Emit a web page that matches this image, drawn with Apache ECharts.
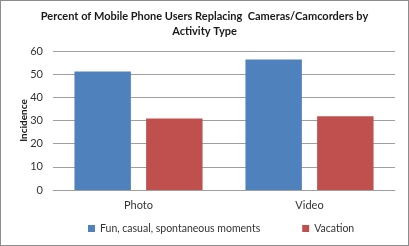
<!DOCTYPE html>
<html><head><meta charset="utf-8">
<script src="https://cdn.jsdelivr.net/npm/echarts@6/dist/echarts.min.js"></script>
<style>html,body{margin:0;padding:0;background:#fff}#c{width:409px;height:246px;box-sizing:border-box;border:1px solid #8c8c8c}</style>
</head><body><div id="c"></div>
<script>
const categories = ['Photo', 'Video'];
const seriesNames = ['Fun, casual, spontaneous moments', 'Vacation'];
const funValues = [51.1, 56.3];
const vacationValues = [30.9, 31.8];
const yTicks = [0, 10, 20, 30, 40, 50, 60];

const chart = echarts.init(document.getElementById('c'));
const font = 'Lato';
chart.setOption({
  animation: false,
  title: {
    text: 'Percent of Mobile Phone Users Replacing  Cameras/Camcorders by\nActivity Type',
    left: 'center', top: 3,
    textStyle: {fontFamily: font, fontWeight: 'bold', fontSize: 11, color: '#1a1a1a', lineHeight: 15}
  },
  legend: {
    bottom: 6, left: 82, itemWidth: 7, itemHeight: 7, itemGap: 42,
    icon: 'rect',
    textStyle: {fontFamily: font, fontSize: 10.5, color: '#333'},
    data: seriesNames
  },
  grid: {left: 52, right: 13, top: 50, bottom: 55},
  xAxis: {
    type: 'category', data: categories,
    axisLine: {lineStyle: {color: '#a0a0a0'}},
    axisTick: {show: false},
    axisLabel: {fontFamily: font, fontSize: 11, color: '#333', margin: 10}
  },
  yAxis: {
    type: 'value', min: yTicks[0], max: yTicks[yTicks.length - 1], interval: 10,
    name: 'Incidence', nameLocation: 'middle', nameGap: 24, nameMoveOverlap: false,
    nameTextStyle: {fontFamily: font, fontWeight: 'bold', fontSize: 10, color: '#1a1a1a'},
    axisLabel: {fontFamily: font, fontSize: 11, color: '#333', margin: 10},
    splitLine: {lineStyle: {color: '#a0a0a0'}},
    axisLine: {show: false}, axisTick: {show: false}
  },
  series: [
    {name: seriesNames[0], type: 'bar', data: funValues, barWidth: '33%', barGap: '27%',
     itemStyle: {color: '#4f81bd'}},
    {name: seriesNames[1], type: 'bar', data: vacationValues, barWidth: '33%',
     itemStyle: {color: '#c0504d'}}
  ]
});
</script></body></html>
